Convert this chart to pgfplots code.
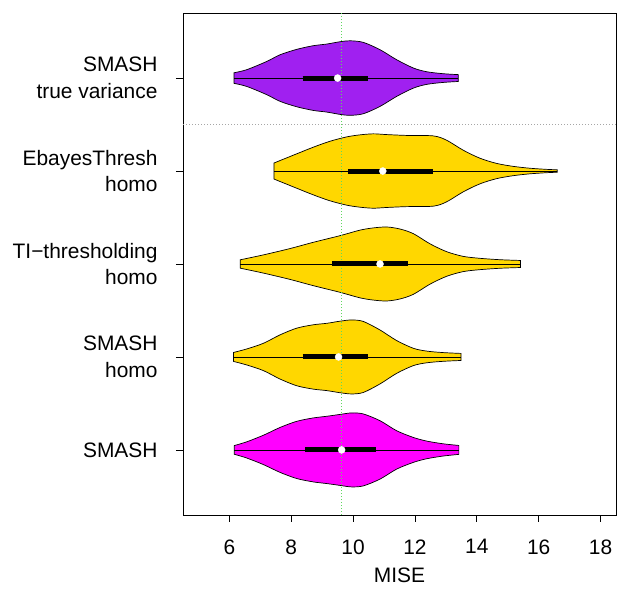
\documentclass[border=0pt]{standalone}
\usepackage{fontspec}
\setmainfont{Liberation Sans}
\usepackage{pgfplots}
\usepackage{pgfplotstable}
\pgfplotsset{compat=1.18}
\usepgfplotslibrary{fillbetween}

\definecolor{vpurple}{HTML}{A020F0}
\definecolor{vgold}{HTML}{FFD700}
\definecolor{vmag}{HTML}{FF00FF}
\definecolor{lgreen}{HTML}{60D860}

% violin half-widths (x = MISE, h = half width in category units)
\pgfplotstableread{
x h
6.15 0.057
6.56 0.090
7.21 0.179
7.64 0.251
8.18 0.309
8.71 0.348
9.15 0.366
9.58 0.391
9.90 0.401
10.33 0.384
10.87 0.305
11.41 0.197
11.95 0.108
12.38 0.068
12.91 0.047
13.40 0.037
}\vA
\pgfplotstableread{
x h
7.44 0.086
7.96 0.156
8.71 0.256
9.25 0.320
9.79 0.367
10.22 0.389
10.65 0.400
11.09 0.392
11.73 0.383
12.59 0.378
13.02 0.332
13.56 0.224
14.10 0.138
14.64 0.082
15.18 0.050
15.72 0.030
16.26 0.018
16.60 0.013
}\vB
\pgfplotstableread{
x h
6.35 0.045
7.10 0.098
7.96 0.166
8.71 0.233
9.58 0.305
10.22 0.364
10.65 0.388
11.09 0.398
11.52 0.376
11.95 0.326
12.48 0.218
13.02 0.133
13.56 0.082
14.10 0.061
14.75 0.046
15.41 0.038
}\vC
\pgfplotstableread{
x h
6.13 0.048
6.56 0.086
7.10 0.147
7.64 0.238
8.18 0.310
8.71 0.346
9.15 0.362
9.58 0.385
9.95 0.398
10.33 0.382
10.87 0.290
11.41 0.176
11.95 0.093
12.38 0.063
12.91 0.047
13.49 0.038
}\vD
\pgfplotstableread{
x h
6.16 0.047
6.56 0.087
7.10 0.158
7.64 0.242
8.18 0.308
8.71 0.344
9.15 0.362
9.58 0.382
9.95 0.398
10.33 0.387
10.87 0.314
11.41 0.206
11.95 0.134
12.38 0.095
12.91 0.066
13.42 0.048
}\vE

\begin{document}
\begin{tikzpicture}
\begin{axis}[
  name=ax,
  scale only axis,
  width=433bp, height=502bp,
  xmin=4.5, xmax=18.5,
  ymin=0.3, ymax=5.7,
  xtick={6,8,10,12,14,16,18},
  ytick={1,2,3,4,5},
  yticklabels={SMASH, {SMASH\\homo}, {TI−thresholding\\homo}, {EbayesThresh\\homo}, {SMASH\\true variance}},
  yticklabel style={align=right, font=\fontsize{21}{26.7}\selectfont, xshift=-15bp},
  xticklabel style={font=\fontsize{21}{25}\selectfont, yshift=-14bp},
  /pgf/number format/assume math mode=true,
  xlabel={MISE},
  xlabel style={font=\fontsize{21}{25}\selectfont, yshift=-10bp, inner sep=0pt},
  tick align=outside,
  major tick length=7bp,
  xtick pos=bottom, ytick pos=left,
  tick style={black, line width=0.8bp},
  axis line style={line width=0.8bp},
  clip=true,
]
% violin 5 (top): SMASH true variance
\addplot[draw=none, name path=u5, smooth] table[x=x, y expr=5+\thisrow{h}] {\vA};
\addplot[draw=none, name path=l5, smooth] table[x=x, y expr=5-\thisrow{h}] {\vA};
\addplot[fill=vpurple, draw=black, line width=0.7bp] fill between[of=u5 and l5];
% violin 4: EbayesThresh homo
\addplot[draw=none, name path=u4, smooth] table[x=x, y expr=4+\thisrow{h}] {\vB};
\addplot[draw=none, name path=l4, smooth] table[x=x, y expr=4-\thisrow{h}] {\vB};
\addplot[fill=vgold, draw=black, line width=0.7bp] fill between[of=u4 and l4];
% violin 3: TI-thresholding homo
\addplot[draw=none, name path=u3, smooth] table[x=x, y expr=3+\thisrow{h}] {\vC};
\addplot[draw=none, name path=l3, smooth] table[x=x, y expr=3-\thisrow{h}] {\vC};
\addplot[fill=vgold, draw=black, line width=0.7bp] fill between[of=u3 and l3];
% violin 2: SMASH homo
\addplot[draw=none, name path=u2, smooth] table[x=x, y expr=2+\thisrow{h}] {\vD};
\addplot[draw=none, name path=l2, smooth] table[x=x, y expr=2-\thisrow{h}] {\vD};
\addplot[fill=vgold, draw=black, line width=0.7bp] fill between[of=u2 and l2];
% violin 1: SMASH
\addplot[draw=none, name path=u1, smooth] table[x=x, y expr=1+\thisrow{h}] {\vE};
\addplot[draw=none, name path=l1, smooth] table[x=x, y expr=1-\thisrow{h}] {\vE};
\addplot[fill=vmag, draw=black, line width=0.7bp] fill between[of=u1 and l1];

% reference lines
\addplot[lgreen, line width=0.8bp, dash pattern=on 1bp off 2bp] coordinates {(9.63,0.3) (9.63,5.7)};
\addplot[gray!70, line width=0.8bp, dash pattern=on 1bp off 2bp] coordinates {(4.5,4.5) (18.5,4.5)};

% whiskers
\addplot[black, line width=0.8bp] coordinates {(6.15,5) (13.40,5)};
\addplot[black, line width=0.8bp] coordinates {(7.44,4) (16.60,4)};
\addplot[black, line width=0.8bp] coordinates {(6.35,3) (15.41,3)};
\addplot[black, line width=0.8bp] coordinates {(6.13,2) (13.49,2)};
\addplot[black, line width=0.8bp] coordinates {(6.16,1) (13.42,1)};
% boxes (IQR)
\addplot[black, line width=5bp] coordinates {(8.37,5) (10.49,5)};
\addplot[black, line width=5bp] coordinates {(9.85,4) (12.57,4)};
\addplot[black, line width=5bp] coordinates {(9.33,3) (11.76,3)};
\addplot[black, line width=5bp] coordinates {(8.37,2) (10.49,2)};
\addplot[black, line width=5bp] coordinates {(8.45,1) (10.74,1)};
% medians
\addplot[only marks, mark=*, mark size=3.5bp, mark options={fill=white, draw=white}] coordinates {(9.50,5) (10.96,4) (10.87,3) (9.53,2) (9.63,1)};
\end{axis}
\pgfresetboundingbox
\path[use as bounding box] ([xshift=-183bp,yshift=-76bp]ax.south west) rectangle ([xshift=1bp,yshift=13bp]ax.north east);
\end{tikzpicture}
\end{document}
